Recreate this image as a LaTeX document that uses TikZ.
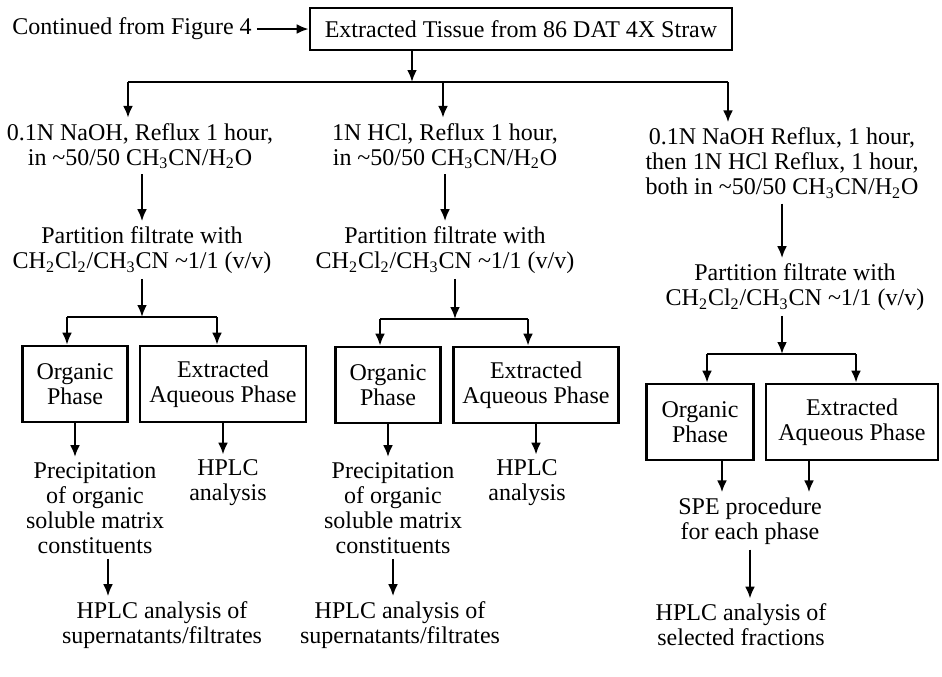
\documentclass[tikz,border=0pt]{standalone}
\usepackage{fontspec}
\setmainfont{Liberation Serif}
\usetikzlibrary{arrows.meta}
\begin{document}
\begin{tikzpicture}[x=0.5pt, y=-0.5pt, line width=1.3pt]
  \tikzstyle{txt}=[font=\fontsize{12}{12.5}\selectfont, align=center, inner sep=2pt]
  \tikzstyle{phasebox}=[txt, draw, minimum height=38pt, inner sep=0pt]
  \tikzstyle{arr}=[-{Latex[length=6pt, width=5pt]}]

  \useasboundingbox (0,0) rectangle (942,676);

  % top row
  \node[txt] (cont) at (132,29) {Continued from Figure 4};
  \node[phasebox, minimum width=211pt, minimum height=21pt] (tissue) at (521,29) {Extracted Tissue from 86 DAT 4X Straw};
  \draw[arr] (cont) -- (tissue);

  % three treatments
  \node[txt] (naoh) at (140,146) {0.1N NaOH, Reflux 1 hour,\\in \textasciitilde50/50 CH\textsubscript{3}CN/H\textsubscript{2}O};
  \node[txt] (hcl) at (445,146) {1N HCl, Reflux 1 hour,\\in \textasciitilde50/50 CH\textsubscript{3}CN/H\textsubscript{2}O};
  \node[txt] (both) at (782,163) {0.1N NaOH Reflux, 1 hour,\\then 1N HCl Reflux, 1 hour,\\both in \textasciitilde50/50 CH\textsubscript{3}CN/H\textsubscript{2}O};

  \coordinate (s0) at (412,82);
  \coordinate (s1) at (128,82);
  \coordinate (s2) at (443,82);
  \coordinate (s3) at (728,82);
  \draw[arr] (tissue.south -| s0) -- (s0);
  \draw (s1) -- (s3);
  \foreach \i/\t in {1/naoh, 2/hcl, 3/both}
    \draw[arr] (s\i) -- (s\i |- \t.north);

  % partitions
  \foreach \c/\x/\y in {1/142/250, 2/445/250, 3/795/287}
    \node[txt] (part\c) at (\x,\y) {Partition filtrate with\\CH\textsubscript{2}Cl\textsubscript{2}/CH\textsubscript{3}CN \textasciitilde1/1 (v/v)};
  \coordinate (m3) at (782,0);
  \draw[arr] (naoh.south -| part1) -- (part1.north);
  \draw[arr] (hcl.south -| part2) -- (part2.north);
  \draw[arr] (both.south -| m3) -- (part3.north -| m3);

  % phases
  \node[phasebox, minimum width=52.5pt] (org1) at (75,384) {Organic\\Phase};
  \node[phasebox, minimum width=83pt] (aq1) at (223,384) {Extracted\\Aqueous Phase};
  \node[phasebox, minimum width=52.5pt] (org2) at (388,385) {Organic\\Phase};
  \node[phasebox, minimum width=82.5pt] (aq2) at (536,385) {Extracted\\Aqueous Phase};
  \node[phasebox, minimum width=53.5pt] (org3) at (700,422) {Organic\\Phase};
  \node[phasebox, minimum width=86pt] (aq3) at (852,422) {Extracted\\Aqueous Phase};

  \foreach \c/\s/\y/\l/\r in {1/142/317/67/217, 2/455/319/380/528, 3/782/354/707/856} {
    \coordinate (st\c) at (\s,\y);
    \coordinate (bl\c) at (\l,\y);
    \coordinate (br\c) at (\r,\y);
    \draw[arr] (part\c.south -| st\c) -- (st\c);
    \draw (bl\c) -- (br\c);
    \draw[arr] (bl\c) -- (bl\c |- org\c.north);
    \draw[arr] (br\c) -- (br\c |- aq\c.north);
  }

  % analyses
  \node[txt] (prec1) at (95,508) {Precipitation\\of organic\\soluble matrix\\constituents};
  \node[txt] (hplc1) at (228,483) {HPLC\\analysis};
  \node[txt] (prec2) at (393,508) {Precipitation\\of organic\\soluble matrix\\constituents};
  \node[txt] (hplc2) at (527,483) {HPLC\\analysis};
  \node[txt] (spe) at (750,521) {SPE procedure\\for each phase};

  \node[txt] (fin1) at (162,625) {HPLC analysis of\\supernatants/filtrates};
  \node[txt] (fin2) at (400,625) {HPLC analysis of\\supernatants/filtrates};
  \node[txt] (fin3) at (741,625) {HPLC analysis of\\selected fractions};

  \draw[arr] (org1.south) -- (org1.south |- prec1.north);
  \draw[arr] (aq1.south) -- (aq1.south |- hplc1.north);
  \draw[arr] (org2.south) -- (org2.south |- prec2.north);
  \draw[arr] (aq2.south) -- (aq2.south |- hplc2.north);
  \coordinate (d1) at (722,460);
  \coordinate (d2) at (809,460);
  \draw[arr] (d1) -- (d1 |- spe.north);
  \draw[arr] (d2) -- (d2 |- spe.north);

  \coordinate (e1) at (108,0);
  \draw[arr] (prec1.south -| e1) -- (fin1.north -| e1);
  \draw[arr] (prec2.south) -- (prec2.south |- fin2.north);
  \draw[arr] (spe.south) -- (spe.south |- fin3.north);
\end{tikzpicture}
\end{document}
